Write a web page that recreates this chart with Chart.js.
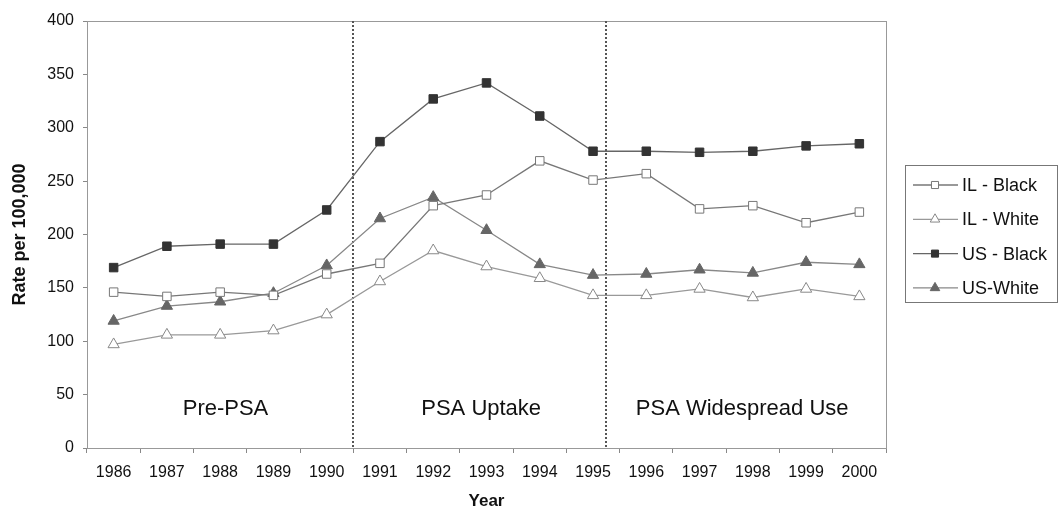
<!DOCTYPE html>
<html>
<head>
<meta charset="utf-8">
<script src="https://cdn.jsdelivr.net/npm/chart.js@4.4.1/dist/chart.umd.min.js"></script>
<style>
  html, body { margin: 0; padding: 0; background: #fff; }
  #wrap { width: 1060px; height: 516px; }
</style>
</head>
<body>
<div id="wrap"><canvas id="chart"></canvas></div>
<script>
'use strict';

// ─── Data ────────────────────────────────────────────────────────────────────
const years = ['1986', '1987', '1988', '1989', '1990', '1991', '1992', '1993',
  '1994', '1995', '1996', '1997', '1998', '1999', '2000'];
const ilBlack = [146, 142, 146, 143, 163, 173, 227, 237, 269, 251, 257, 224, 227, 211, 221];
const ilWhite = [97, 106, 106, 110, 125, 156, 185, 170, 159, 143, 143, 149, 141, 149, 142];
const usBlack = [169, 189, 191, 191, 223, 287, 327, 342, 311, 278, 278, 277, 278, 283, 285];
const usWhite = [119, 133, 137, 145, 171, 215, 235, 204, 172, 162, 163, 167, 164, 174, 172];
const yTicks = [0, 400, 50]; // min, max, step

// period dividers (category index) and their captions
const periodBreaks = [4.5, 9.25];
const periodLabels = ['Pre-PSA', 'PSA Uptake', 'PSA Widespread Use'];
const periodLabelAt = [2.1, 6.9, 11.8];
const periodLabelValue = 37;

const FONT = "'Liberation Sans', Arial, sans-serif";

// ─── Plugins ─────────────────────────────────────────────────────────────────

const frame = {
  id: 'frame',
  beforeDatasetsDraw(chart) {
    const { ctx, chartArea: a } = chart;
    ctx.save();
    ctx.strokeStyle = '#999';
    ctx.lineWidth = 1;
    ctx.strokeRect(a.left + 0.5, a.top + 0.5, a.right - a.left, a.bottom - a.top);
    ctx.restore();
  },
};

const periods = {
  id: 'periods',
  beforeDatasetsDraw(chart) {
    const { ctx, chartArea: a, scales: { x, y } } = chart;
    ctx.save();
    ctx.strokeStyle = '#555';
    ctx.lineWidth = 2;
    ctx.setLineDash([2, 2]);
    periodBreaks.forEach(b => {
      const px = Math.round(x.getPixelForValue(b));
      ctx.beginPath();
      ctx.moveTo(px, a.top);
      ctx.lineTo(px, a.bottom);
      ctx.stroke();
    });
    ctx.setLineDash([]);
    ctx.fillStyle = '#111';
    ctx.font = '22px ' + FONT;
    ctx.textAlign = 'center';
    ctx.textBaseline = 'middle';
    periodLabels.forEach((t, i) => {
      ctx.fillText(t, x.getPixelForValue(periodLabelAt[i]), y.getPixelForValue(periodLabelValue));
    });
    ctx.restore();
  },
};

// boxed legend with line + marker samples, like the spreadsheet original
const boxLegend = {
  id: 'boxLegend',
  afterDraw(chart) {
    const { ctx } = chart;
    const left = 905, top = 165, w = 152, h = 137;
    ctx.save();
    ctx.fillStyle = '#fff';
    ctx.fillRect(left, top, w, h);
    ctx.strokeStyle = '#777';
    ctx.lineWidth = 1;
    ctx.strokeRect(left + 0.5, top + 0.5, w, h);
    ctx.font = '18px ' + FONT;
    ctx.textBaseline = 'middle';
    ctx.textAlign = 'left';
    chart.data.datasets.forEach((ds, i) => {
      const cy = top + 20 + i * 34.3;
      ctx.strokeStyle = ds.borderColor;
      ctx.lineWidth = ds.borderWidth;
      ctx.beginPath();
      ctx.moveTo(left + 8, cy);
      ctx.lineTo(left + 53, cy);
      ctx.stroke();
      ctx.fillStyle = ds.pointBackgroundColor;
      ctx.strokeStyle = ds.pointBorderColor;
      ctx.lineWidth = 1;
      Chart.helpers.drawPoint(ctx, { pointStyle: ds.pointStyle, radius: ds.pointRadius - 1, borderWidth: 1 }, left + 30, cy);
      ctx.fillStyle = '#111';
      ctx.fillText(ds.label, left + 57, cy + 1);
    });
    ctx.restore();
  },
};

// ─── Chart ───────────────────────────────────────────────────────────────────

function series(label, data, line, style, fill, stroke, r) {
  return {
    label, data,
    borderColor: line, borderWidth: 1.3,
    pointStyle: style, pointRadius: r,
    pointBackgroundColor: fill, pointBorderColor: stroke, pointBorderWidth: 1,
    tension: 0, fill: false,
  };
}

new Chart(document.getElementById('chart'), {
  type: 'line',
  data: {
    labels: years,
    datasets: [
      series('IL - Black', ilBlack, '#777', 'rect', '#fff', '#777', 6),
      series('IL - White', ilWhite, '#999', 'triangle', '#fff', '#888', 6.5),
      series('US - Black', usBlack, '#666', 'rect', '#333', '#333', 6),
      series('US-White', usWhite, '#888', 'triangle', '#666', '#666', 6.5),
    ],
  },
  options: {
    responsive: true, maintainAspectRatio: false, animation: false,
    layout: { padding: { top: 21, right: 174, bottom: 0, left: 0 } },
    plugins: { legend: { display: false }, tooltip: { enabled: false } },
    scales: {
      x: {
        offset: true,
        grid: { offset: true, drawOnChartArea: false, tickLength: 5, color: '#888' },
        border: { color: '#888' },
        ticks: { color: '#111', font: { family: FONT, size: 16 }, padding: 10, maxRotation: 0, autoSkip: false },
        title: { display: true, text: 'Year', color: '#111', font: { family: FONT, size: 17, weight: 'bold' }, padding: { top: 4, bottom: 4 } },
        afterFit(s) { s.height = 68; },
      },
      y: {
        min: yTicks[0], max: yTicks[1],
        grid: { drawOnChartArea: false, tickLength: 4, color: '#888' },
        border: { color: '#888' },
        ticks: { stepSize: yTicks[2], color: '#111', font: { family: FONT, size: 16 }, padding: 9 },
        title: { display: true, text: 'Rate per 100,000', color: '#111', font: { family: FONT, size: 18, weight: 'bold' }, padding: { top: 9, bottom: 0 } },
        afterFit(s) { s.width = 87; },
      },
    },
  },
  plugins: [frame, periods, boxLegend],
});
</script>
</body>
</html>
